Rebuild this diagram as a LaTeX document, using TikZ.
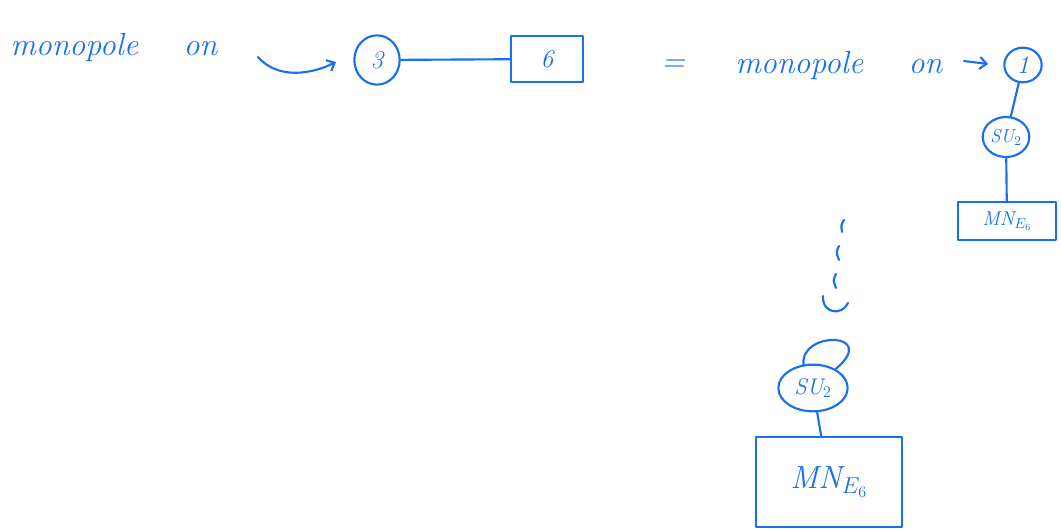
\documentclass[tikz,border=0pt]{standalone}
\usetikzlibrary{shapes.geometric,arrows.meta}
\definecolor{ink}{RGB}{22,112,240}
\begin{document}
\begin{tikzpicture}[x=0.75pt,y=-0.75pt,
  ln/.style={draw=ink,line width=1.6pt,line cap=round,line join=round},
  txt/.style={draw=none,text=ink,font=\fontsize{24}{28}\selectfont\itshape,inner sep=0pt},
  lbl/.style={text=ink,font=\fontsize{19}{22}\selectfont\itshape},
  circ/.style={ellipse,ln,inner sep=0pt,text=ink},
  boxn/.style={rectangle,ln,inner sep=0pt,text=ink},
  arr/.style={ln,-{Straight Barb[length=5pt,width=9pt]}}]
\useasboundingbox (0,0) rectangle (1061,529);
% top line
\node[txt,anchor=base west] (t1) at (10,55) {monopole\hspace{34pt}on};
\node[circ,lbl,minimum width=34pt,minimum height=37pt] (n3) at (377,60) {3};
\node[boxn,lbl,minimum width=54pt,minimum height=34pt] (n6) at (547,59) {6};
\coordinate (a1s) at (258,57);
\coordinate (a1e) at (336,62);
\draw[arr] (a1s) .. controls (278,80) and (312,74) .. (a1e);
\draw[ln] (n3) -- (n6);
\node[txt] (eq) at (673,66) {=};
\node[txt,anchor=base west] (t2) at (735,73) {monopole\hspace{34pt}on};
\node[circ,lbl,minimum width=28pt,minimum height=26pt] (n1) at (1023,65) {1};
\coordinate (a2s) at (964,61);
\coordinate (a2e) at (988,64);
\draw[arr] (a2s) -- (a2e);
\node[circ,font=\fontsize{14}{16}\selectfont\itshape,minimum width=35pt,minimum height=30pt] (su1) at (1006,137) {SU$_2$};
\draw[ln] (n1) -- (su1);
\node[boxn,font=\fontsize{15}{18}\selectfont\itshape,minimum width=73pt,minimum height=28pt] (mn1) at (1007,221) {MN$_{E_6}$};
\draw[ln] (su1) -- (mn1);
% dots
\draw[ln] (844,220) .. controls (841,225) .. (842,232);
\draw[ln] (839,246) .. controls (836,252) .. (839,260);
\draw[ln] (836,274) .. controls (833,280) .. (836,288);
\draw[ln] (823,296) .. controls (822,314) and (842,316) .. (848,303);
% bottom
\node[circ,font=\fontsize{17}{20}\selectfont\itshape,minimum width=52pt,minimum height=35pt] (su2) at (813,388) {SU$_2$};
\draw[ln] (su2.112) .. controls (800,330) and (880,332) .. (su2.40);
\node[boxn,font=\fontsize{24}{28}\selectfont\itshape,minimum width=109pt,minimum height=67pt] (mn2) at (829,482) {MN$_{E_6}$};
\draw[ln] (su2) -- (mn2);
\end{tikzpicture}
\end{document}
